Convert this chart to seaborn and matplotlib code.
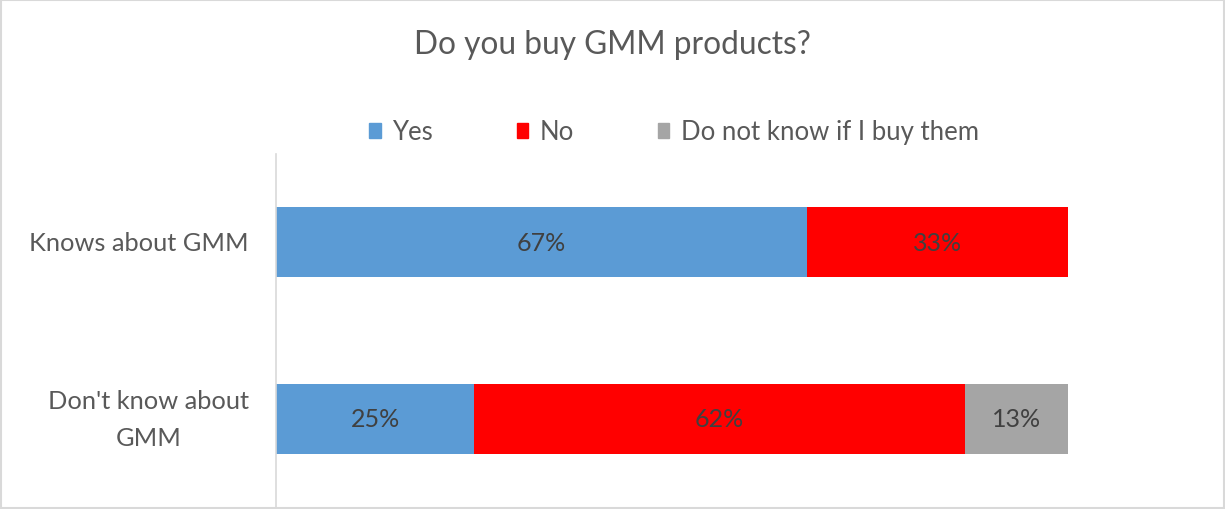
import matplotlib
matplotlib.use("Agg")
import matplotlib.pyplot as plt
import matplotlib.patches as mpatches
import seaborn as sns
import pandas as pd
import numpy as np

# Survey results (share of respondents)
groups = ["Knows about GMM", "Don't know about\nGMM"]
series_names = ["Yes", "No", "Do not know if I buy them"]
yes_vals = [0.67, 0.25]
no_vals = [0.33, 0.62]
dontknow_vals = [0.00, 0.13]
colors = ["#5B9BD5", "#FF0000", "#A5A5A5"]

sns.set_theme(style="white")
plt.rcParams["font.family"] = ["Lato", "DejaVu Sans"]

fig = plt.figure(figsize=(12.25, 5.1), dpi=100)
ax = fig.add_axes([276 / 1225, 0.003, (1068 - 276) / 1225, 0.694])

df = pd.DataFrame({
    "group": groups,
    "Yes": yes_vals,
    "No": no_vals,
    "Dont": dontknow_vals,
})
df["cum_yes"] = df["Yes"]
df["cum_no"] = df["Yes"] + df["No"]
df["cum_all"] = df["Yes"] + df["No"] + df["Dont"]

# Stacked bars drawn back-to-front from cumulative totals
bar_w = 0.395
for col, c in zip(["cum_all", "cum_no", "cum_yes"], colors[::-1]):
    sns.barplot(data=df, y="group", x=col, orient="h", color=c,
                width=bar_w, saturation=1, ax=ax, linewidth=0)

# Value labels centred in each segment
label_color = "#404040"
for i, row in df.iterrows():
    starts = [0, row["Yes"], row["Yes"] + row["No"]]
    for s, v in zip(starts, [row["Yes"], row["No"], row["Dont"]]):
        if v > 0:
            ax.text(s + v / 2, i, f"{v:.0%}", ha="center", va="center",
                    fontsize=18, color=label_color)

ax.set_xlim(0, 1)
ax.set_ylim(1.5, -0.5)
ax.set_xlabel("")
ax.set_ylabel("")
ax.set_xticks([])
ax.tick_params(axis="y", length=0, pad=19.5, labelsize=18.3, labelcolor="#595959")
for lbl in ax.get_yticklabels():
    lbl.set_multialignment("center")
    lbl.set_linespacing(1.75)
    lbl.set_verticalalignment("center")
for side in ["top", "right", "bottom"]:
    ax.spines[side].set_visible(False)
ax.spines["left"].set_color("#D9D9D9")
ax.spines["left"].set_linewidth(1.2)

fig.text(0.5, 1 - 45 / 510, "Do you buy GMM products?", ha="center", va="center",
         fontsize=22.8, color="#595959")

handles = [mpatches.Patch(color=c, label=n) for c, n in zip(colors, series_names)]
fig.legend(handles=handles, loc="center", bbox_to_anchor=(674 / 1225, 1 - 133 / 510),
           ncol=3, frameon=False, fontsize=18.5, labelcolor="#595959",
           handlelength=0.45, handleheight=0.55, handletextpad=0.45, columnspacing=3.25)

# Light outer border around the chart area
fig.patches.append(mpatches.Rectangle((0.001, 0.002), 0.998, 0.996, transform=fig.transFigure,
                                      fill=False, edgecolor="#D9D9D9", linewidth=1.5))

fig.savefig("out.png", dpi=100)
